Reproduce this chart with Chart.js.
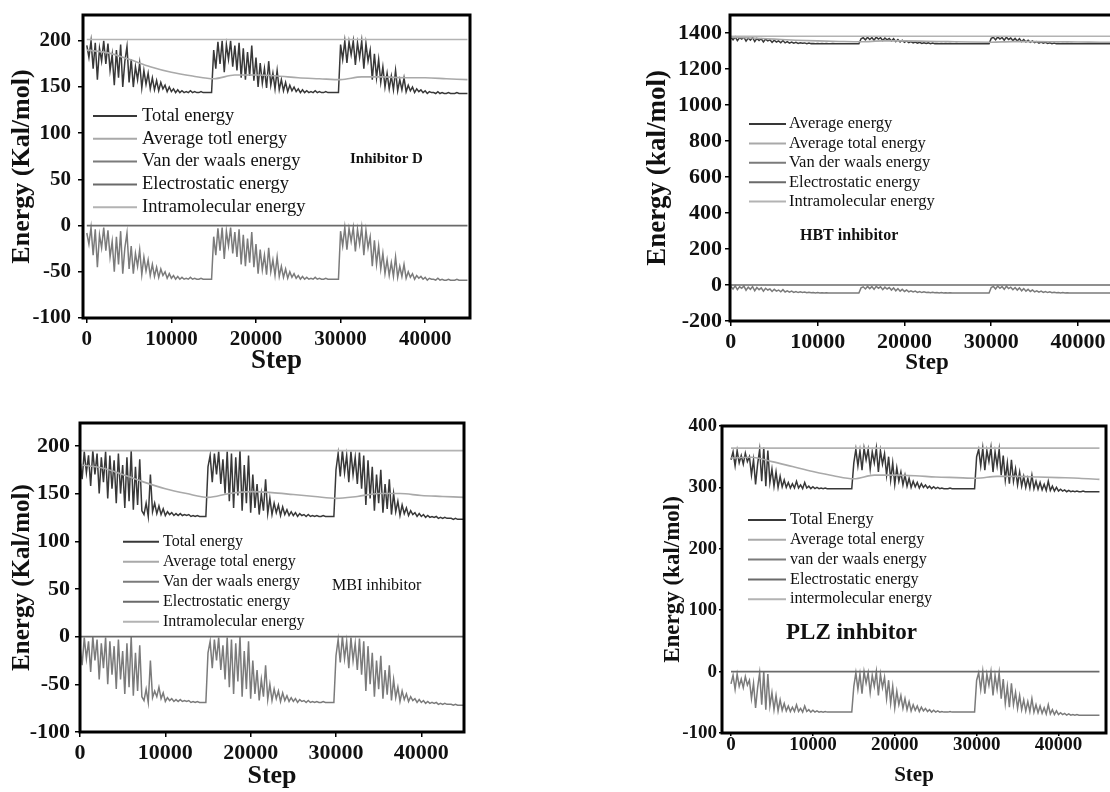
<!DOCTYPE html>
<html lang="en">
<head>
<meta charset="UTF-8">
<title>Energy vs Step</title>
<script src="https://cdn.jsdelivr.net/npm/chart.js"></script>
<style>
    body, html { margin: 0; padding: 0; background: #fff; overflow: hidden; width: 1110px; height: 792px; }
    .panel { position: absolute; }
</style>
</head>
<body>
<div class="panel" style="left:0;top:0"><canvas id="cD" width="480" height="380"></canvas></div>
<div class="panel" style="left:640px;top:0"><canvas id="cHBT" width="500" height="380"></canvas></div>
<div class="panel" style="left:0;top:395px"><canvas id="cMBI" width="480" height="397"></canvas></div>
<div class="panel" style="left:640px;top:395px"><canvas id="cPLZ" width="470" height="397"></canvas></div>

<script>
    // sampling grids (step numbers)
    const stepsFine = [];
    for (let s = 0; s <= 45000; s += 250) stepsFine.push(s);
    const stepsAvg = [];
    for (let s = 0; s <= 45000; s += 2500) stepsAvg.push(s);
    const stepsFlat = [0, 45000];

    const xTicks = [0, 10000, 20000, 30000, 40000];

    // ---- Inhibitor D ----
    const D_total = [
        195,182,200,170,198,158,192,178,200,175, 197,168,185,152,190,160,196,150,178,194,
        155,180,150,172,158,176,149,168,153,165, 148,160,147,157,146,155,148,152,145,150,
        145,148,144,147,144,146,144,145,144,146, 144,145,144,144,145,144,144,144,144,144,
        190,170,199,175,200,166,196,180,200,172, 195,168,198,160,192,158,188,162,195,157,
        182,150,176,154,170,149,178,152,165,148, 168,147,158,146,155,145,152,146,150,145,
        148,144,147,144,146,144,145,144,146,144, 145,144,144,145,144,144,144,144,144,144,
        196,180,200,176,199,185,200,174,198,182, 200,170,197,178,190,158,186,160,180,155,
        172,150,165,148,162,147,168,146,158,147, 160,145,152,146,150,144,148,145,147,144,
        146,143,145,144,144,143,145,143,144,143, 143,144,143,143,143,144,143,143,143,143,143];
    const D_avg = [190,187,180,172,166,162,159,163,163,162,160,159,158,161,161,160,160,159,158];
    const D_vdw = [
        -8,-20,-2,-32,-4,-45,-10,-24,-2,-27, -5,-34,-17,-50,-12,-42,-6,-52,-24,-8,
        -47,-22,-52,-30,-44,-26,-53,-34,-49,-37, -54,-42,-55,-45,-56,-47,-54,-50,-57,-52,
        -57,-54,-58,-55,-58,-56,-58,-57,-58,-56, -58,-57,-58,-58,-57,-58,-58,-58,-58,-58,
        -12,-32,-3,-27,-2,-36,-6,-22,-2,-30, -7,-34,-4,-42,-10,-44,-14,-40,-7,-45,
        -20,-52,-26,-48,-32,-53,-24,-50,-37,-54, -34,-55,-44,-56,-47,-57,-50,-56,-52,-57,
        -54,-58,-55,-58,-56,-58,-57,-58,-56,-58, -57,-58,-58,-57,-58,-58,-58,-58,-58,-58,
        -6,-22,-2,-26,-3,-17,-2,-28,-4,-20, -2,-32,-5,-24,-12,-44,-16,-42,-22,-47,
        -30,-52,-37,-54,-40,-55,-34,-56,-44,-55, -42,-57,-50,-56,-52,-58,-54,-57,-55,-58,
        -56,-59,-57,-58,-58,-59,-57,-59,-58,-59, -59,-58,-59,-59,-59,-58,-59,-59,-59,-59,-59];
    const D_elec = [0, 0];
    const D_intra = [201.5, 201.5];
    const D_labels = ['Total energy', 'Average totl energy', 'Van der waals energy', 'Electrostatic energy', 'Intramolecular energy'];
    const D_yTicks = [-100, -50, 0, 50, 100, 150, 200];

    // ---- HBT inhibitor ----
    const HBT_total = [
        1376,1362,1378,1358,1374,1366,1377,1355,1372,1360, 1375,1352,1370,1358,1368,1350,1366,1356,1362,1348,
        1360,1350,1356,1346,1358,1345,1352,1344,1350,1343, 1348,1342,1346,1343,1345,1341,1344,1341,1342,1340,
        1342,1340,1341,1340,1341,1340,1340,1341,1340,1340, 1340,1340,1340,1340,1340,1340,1340,1340,1340,1340,
        1368,1374,1362,1376,1364,1375,1360,1377,1366,1374, 1358,1372,1362,1370,1356,1368,1352,1364,1350,1360,
        1348,1356,1346,1352,1345,1350,1343,1348,1342,1346, 1342,1345,1341,1344,1341,1342,1340,1342,1340,1341,
        1340,1341,1340,1340,1341,1340,1340,1340,1340,1340, 1340,1340,1340,1340,1340,1340,1340,1340,1340,1340,
        1370,1376,1362,1378,1366,1375,1360,1377,1364,1372, 1358,1370,1356,1368,1352,1364,1350,1360,1348,1356,
        1346,1352,1344,1350,1343,1348,1342,1346,1341,1344, 1341,1342,1340,1342,1340,1341,1340,1341,1340,1340,
        1340,1340,1340,1340,1340,1340,1340,1340,1340,1340, 1340,1340,1340,1340,1340,1340,1340,1340,1340,1340,1340];
    const HBT_avg = [1376,1372,1366,1360,1356,1353,1351,1356,1356,1354,1352,1350,1349,1352,1352,1351,1350,1349,1348];
    const HBT_vdw = [
        -8,-22,-5,-26,-10,-18,-6,-29,-12,-24, -9,-32,-14,-26,-16,-34,-18,-28,-22,-36,
        -24,-34,-28,-38,-26,-39,-32,-40,-34,-41, -36,-42,-38,-41,-39,-43,-40,-43,-42,-44,
        -42,-44,-43,-45,-43,-45,-44,-44,-45,-45, -45,-45,-45,-45,-45,-45,-45,-45,-45,-45,
        -16,-10,-22,-8,-20,-9,-24,-7,-18,-10, -26,-12,-22,-14,-28,-16,-32,-20,-34,-24,
        -36,-28,-38,-32,-39,-34,-41,-36,-42,-38, -42,-40,-43,-40,-43,-42,-44,-42,-44,-43,
        -44,-43,-45,-44,-44,-45,-45,-44,-45,-45, -45,-45,-45,-45,-45,-45,-45,-45,-45,-45,
        -14,-8,-22,-6,-18,-9,-24,-7,-20,-12, -26,-14,-28,-16,-32,-20,-34,-24,-36,-28,
        -38,-32,-40,-34,-41,-36,-42,-38,-43,-40, -43,-42,-44,-42,-44,-43,-45,-44,-45,-44,
        -45,-45,-45,-45,-45,-45,-45,-45,-45,-45, -45,-45,-45,-45,-45,-45,-45,-45,-45,-45,-45];
    const HBT_elec = [0, 0];
    const HBT_intra = [1382, 1382];
    const HBT_labels = ['Average energy', 'Average total energy', 'Van der waals energy', 'Electrostatic energy', 'Intramolecular energy'];
    const HBT_yTicks = [-200, 0, 200, 400, 600, 800, 1000, 1200, 1400];

    // ---- MBI inhibitor ----
    const MBI_total = [
        185,165,194,172,190,158,195,170,192,150, 188,162,194,145,190,155,185,140,192,150,
        180,135,188,142,195,133,178,138,186,132, 128,140,126,170,131,140,129,137,128,134,
        127,131,128,130,127,129,127,129,127,128, 127,128,126,127,126,127,126,126,126,126,
        178,190,162,192,170,194,160,186,150,194, 142,192,135,188,148,195,132,180,140,190,
        130,170,135,160,128,150,132,165,129,145, 128,140,130,138,127,136,128,133,127,131,
        127,130,126,129,127,128,126,128,126,127, 126,127,126,126,127,126,126,126,126,126,
        175,192,168,195,172,190,162,194,170,188, 160,193,155,190,138,185,145,178,132,170,
        140,175,130,160,134,165,128,150,131,142, 127,138,129,135,127,132,128,130,126,129,
        126,128,125,127,125,126,125,126,124,125, 124,125,124,124,124,123,124,123,123,123,123];
    const MBI_avg = [180,177,170,162,155,150,146,150,152,151,149,147,145,147,150,150,148,147,146];
    const MBI_vdw = [
        -10,-30,-1,-23,-5,-37,0,-25,-3,-45, -7,-33,-1,-50,-5,-40,-10,-55,-3,-45,
        -15,-60,-7,-53,0,-62,-17,-57,-9,-63, -67,-55,-69,-25,-64,-57,-63,-53,-65,-59,
        -68,-64,-67,-65,-68,-66,-68,-66,-68,-67, -68,-67,-69,-68,-69,-68,-69,-69,-69,-69,
        -17,-5,-33,-3,-25,-1,-35,-9,-45,-1, -53,-3,-60,-7,-47,0,-63,-15,-55,-5,
        -65,-25,-60,-35,-67,-45,-63,-30,-66,-50, -67,-55,-65,-57,-68,-59,-67,-62,-68,-64,
        -68,-65,-69,-66,-68,-67,-69,-67,-69,-68, -69,-68,-69,-69,-68,-69,-69,-69,-69,-69,
        -20,-3,-27,0,-23,-5,-33,-1,-25,-7, -35,-2,-40,-5,-57,-10,-50,-17,-63,-25,
        -55,-20,-65,-35,-61,-30,-67,-45,-64,-53, -68,-57,-66,-60,-68,-63,-67,-65,-69,-66,
        -69,-67,-70,-68,-70,-69,-70,-69,-71,-70, -71,-70,-71,-71,-71,-72,-71,-72,-72,-72,-72];
    const MBI_elec = [0, 0];
    const MBI_intra = [195, 195];
    const MBI_labels = ['Total energy', 'Average total energy', 'Van der waals energy', 'Electrostatic energy', 'Intramolecular energy'];
    const MBI_yTicks = [-100, -50, 0, 50, 100, 150, 200];

    // ---- PLZ inhibitor ----
    const PLZ_total = [
        345,358,335,360,340,352,338,356,342,350, 320,345,305,338,362,310,365,302,360,308,
        330,302,325,300,318,301,312,300,308,299, 306,299,310,299,304,298,308,299,302,298,
        301,298,300,298,299,298,299,298,298,298, 298,298,298,298,298,298,298,298,298,298,
        340,362,335,360,328,364,345,362,330,358, 340,364,325,360,338,355,320,350,312,340,
        305,332,310,325,304,320,302,315,300,310, 301,308,299,306,300,304,299,302,298,301,
        298,300,298,299,298,298,298,299,298,298, 298,298,298,298,298,298,298,298,298,298,
        350,362,335,364,328,360,342,365,325,358, 335,362,320,352,312,340,306,345,310,330,
        304,325,302,318,300,315,299,320,298,310, 297,308,296,305,295,310,295,302,294,300,
        294,297,294,296,293,295,293,294,293,294, 293,293,294,293,293,293,293,293,293,293,293];
    const PLZ_avg = [348,349,342,334,326,319,314,320,320,319,317,316,315,318,318,317,316,315,313];
    const PLZ_vdw = [
        -20,-6,-29,-4,-24,-12,-26,-8,-22,-14, -44,-19,-59,-26,-2,-54,0,-62,-4,-56,
        -34,-62,-39,-64,-46,-63,-52,-64,-56,-65, -58,-65,-54,-65,-60,-66,-56,-65,-62,-66,
        -63,-66,-64,-66,-65,-66,-65,-66,-66,-66, -66,-66,-66,-66,-66,-66,-66,-66,-66,-66,
        -24,-2,-29,-4,-36,0,-19,-2,-34,-6, -24,0,-39,-4,-26,-9,-44,-14,-52,-24,
        -59,-32,-54,-39,-60,-44,-62,-49,-64,-54, -63,-56,-65,-58,-64,-60,-65,-62,-66,-63,
        -66,-64,-66,-65,-66,-66,-66,-65,-66,-66, -66,-66,-66,-66,-66,-66,-66,-66,-66,-66,
        -14,-2,-29,0,-36,-4,-22,0,-39,-6, -29,-2,-44,-12,-52,-24,-58,-19,-54,-34,
        -60,-39,-62,-46,-64,-49,-65,-44,-66,-54, -67,-56,-68,-59,-69,-54,-69,-62,-70,-64,
        -70,-67,-70,-68,-71,-69,-71,-70,-71,-70, -71,-71,-71,-71,-71,-71,-71,-71,-71,-71,-71];
    const PLZ_elec = [0, 0];
    const PLZ_intra = [364, 364];
    const PLZ_labels = ['Total Energy', 'Average total energy', 'van der waals energy', 'Electrostatic energy', 'intermolecular energy'];
    const PLZ_yTicks = [-100, 0, 100, 200, 300, 400];

    const serif = '"Liberation Serif", "Times New Roman", serif';
    const colors = ['#383838', '#a9a9a9', '#7b7b7b', '#6a6a6a', '#b3b3b3'];

    const pts = (xs, ys) => xs.map((x, i) => ({ x: x, y: ys[i] }));

    // frame, in-plot legend and panel label
    const notesPlugin = {
        id: 'notes',
        afterDraw(chart, args, o) {
            const { ctx, chartArea: a } = chart;
            ctx.save();
            ctx.strokeStyle = '#000';
            ctx.lineWidth = 3;
            ctx.strokeRect(a.left, a.top, a.right - a.left, a.bottom - a.top);

            ctx.font = o.legendFont;
            ctx.textBaseline = 'middle';
            ctx.textAlign = 'left';
            chart.data.datasets.forEach((ds, i) => {
                const y = o.ly + i * o.gap;
                ctx.strokeStyle = ds.borderColor;
                ctx.lineWidth = 2;
                ctx.beginPath();
                ctx.moveTo(o.lx, y);
                ctx.lineTo(o.lx + o.len, y);
                ctx.stroke();
                ctx.fillStyle = '#111';
                ctx.fillText(ds.label, o.lx + o.len + o.textGap, y);
            });

            ctx.font = o.tagFont;
            ctx.fillStyle = '#111';
            ctx.fillText(o.tag, o.tx, o.ty);
            ctx.restore();
        }
    };

    function buildChart(id, s, g) {
        const line = (label, data, color, width, extra) => Object.assign({
            label: label, data: data, borderColor: color, borderWidth: width,
            pointRadius: 0, tension: 0, fill: false
        }, extra || {});

        return new Chart(document.getElementById(id), {
            type: 'line',
            data: {
                datasets: [
                    line(s.labels[0], pts(stepsFine, s.total), colors[0], 1.5, { order: 2 }),
                    line(s.labels[1], pts(stepsAvg, s.avg), colors[1], 1.6, { order: 0, cubicInterpolationMode: 'monotone' }),
                    line(s.labels[2], pts(stepsFine, s.vdw), colors[2], 1.5, { order: 3 }),
                    line(s.labels[3], pts(stepsFlat, s.elec), colors[3], 1.6, { order: 1 }),
                    line(s.labels[4], pts(stepsFlat, s.intra), colors[4], 1.6, { order: 1 })
                ]
            },
            options: {
                responsive: false,
                animation: false,
                devicePixelRatio: 1,
                events: [],
                layout: { padding: { top: g.padTop, right: g.padRight, left: 0, bottom: 0 } },
                scales: {
                    x: {
                        type: 'linear',
                        min: g.xMin, max: g.xMax,
                        afterBuildTicks: sc => { sc.ticks = xTicks.map(v => ({ value: v })); },
                        afterFit: sc => { sc.height = g.xH; sc.paddingLeft = 0; sc.paddingRight = 0; },
                        border: { display: false },
                        grid: { drawOnChartArea: false, drawTicks: true, tickLength: g.tl, color: '#000', lineWidth: 1.5 },
                        ticks: {
                            color: '#111', padding: g.xPad, maxRotation: 0, autoSkip: false,
                            font: { family: serif, size: g.tickSize, weight: 'bold', lineHeight: 1 },
                            callback: v => String(v)
                        },
                        title: {
                            display: true, text: 'Step', color: '#111',
                            font: { family: serif, size: g.xTitleSize, weight: 'bold' },
                            padding: { top: 0, bottom: g.xTitlePad }
                        }
                    },
                    y: {
                        min: g.yMin, max: g.yMax,
                        afterBuildTicks: sc => { sc.ticks = s.yTicks.map(v => ({ value: v })); },
                        afterFit: sc => { sc.width = g.yW; sc.paddingTop = 0; sc.paddingBottom = 0; },
                        border: { display: false },
                        grid: { drawOnChartArea: false, drawTicks: true, tickLength: g.tl, color: '#000', lineWidth: 1.5 },
                        ticks: {
                            color: '#111', padding: g.yPad, autoSkip: false,
                            font: { family: serif, size: g.tickSize, weight: 'bold', lineHeight: 1 },
                            callback: v => String(v)
                        },
                        title: {
                            display: true, text: g.yTitle, color: '#111',
                            font: { family: serif, size: g.yTitleSize, weight: 'bold' },
                            padding: { top: g.yTitlePad, bottom: 0 }
                        }
                    }
                },
                plugins: {
                    legend: { display: false },
                    tooltip: { enabled: false },
                    notes: g.notes
                }
            },
            plugins: [notesPlugin]
        });
    }

    buildChart('cD',
        { total: D_total, avg: D_avg, vdw: D_vdw, elec: D_elec, intra: D_intra, labels: D_labels, yTicks: D_yTicks },
        { xMin: -450, xMax: 45300, yMin: -100, yMax: 228, padTop: 15, padRight: 10, yW: 83, xH: 62,
          tl: 5, xPad: 6, yPad: 7, tickSize: 21, xTitleSize: 27, xTitlePad: 3, yTitle: 'Energy (Kal/mol)', yTitleSize: 26, yTitlePad: 7,
          notes: { lx: 93, ly: 116, gap: 22.8, len: 44, textGap: 5, legendFont: '18.5px ' + serif,
                   tag: 'Inhibitor D', tx: 350, ty: 159, tagFont: 'bold 15px ' + serif } });

    buildChart('cHBT',
        { total: HBT_total, avg: HBT_avg, vdw: HBT_vdw, elec: HBT_elec, intra: HBT_intra, labels: HBT_labels, yTicks: HBT_yTicks },
        { xMin: -100, xMax: 45300, yMin: -200, yMax: 1500, padTop: 15, padRight: 16, yW: 90, xH: 59,
          tl: 5, xPad: 5, yPad: 3, tickSize: 22, xTitleSize: 23, xTitlePad: 3, yTitle: 'Energy (kal/mol)', yTitleSize: 27, yTitlePad: 2,
          notes: { lx: 109, ly: 124, gap: 19.4, len: 37, textGap: 3, legendFont: '16.5px ' + serif,
                   tag: 'HBT inhibitor', tx: 160, ty: 236, tagFont: 'bold 16px ' + serif } });

    buildChart('cMBI',
        { total: MBI_total, avg: MBI_avg, vdw: MBI_vdw, elec: MBI_elec, intra: MBI_intra, labels: MBI_labels, yTicks: MBI_yTicks },
        { xMin: 0, xMax: 45000, yMin: -100, yMax: 224, padTop: 28, padRight: 16, yW: 80, xH: 60,
          tl: 5, xPad: 5, yPad: 5, tickSize: 22, xTitleSize: 26, xTitlePad: 0, yTitle: 'Energy (Kal/mol)', yTitleSize: 25, yTitlePad: 8,
          notes: { lx: 123, ly: 146.7, gap: 20, len: 36, textGap: 4, legendFont: '16px ' + serif,
                   tag: 'MBI inhibitor', tx: 332, ty: 190.7, tagFont: '16px ' + serif } });

    buildChart('cPLZ',
        { total: PLZ_total, avg: PLZ_avg, vdw: PLZ_vdw, elec: PLZ_elec, intra: PLZ_intra, labels: PLZ_labels, yTicks: PLZ_yTicks },
        { xMin: -1100, xMax: 45800, yMin: -100, yMax: 400, padTop: 31, padRight: 4, yW: 82, xH: 59,
          tl: 3, xPad: 0, yPad: 2, tickSize: 19, xTitleSize: 21, xTitlePad: 4, yTitle: 'Energy (kal/mol)', yTitleSize: 23, yTitlePad: 19,
          notes: { lx: 108, ly: 125, gap: 19.8, len: 38, textGap: 4, legendFont: '16.2px ' + serif,
                   tag: 'PLZ inhbitor', tx: 146, ty: 238, tagFont: 'bold 23px ' + serif } });
</script>
</body>
</html>
